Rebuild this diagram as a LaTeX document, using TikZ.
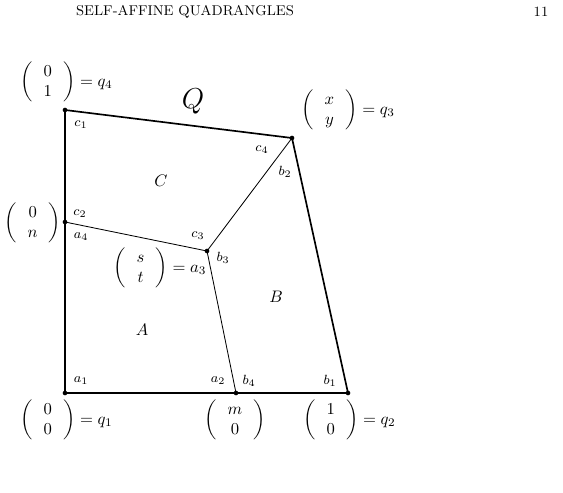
\documentclass[tikz,border=0pt]{standalone}
\begin{document}
\begin{tikzpicture}[x=0.6pt,y=-0.6pt,
  thickedge/.style={line width=1pt},
  thinedge/.style={line width=0.5pt},
  vdot/.style={circle,fill,inner sep=0pt,minimum size=2.8pt},
  lab/.style={inner sep=0pt,font=\footnotesize},
  vecl/.style={inner sep=0pt,anchor=west},
  region/.style={inner sep=0pt}]
\useasboundingbox (0,0) rectangle (563,492);
% header
\node[inner sep=0pt,font=\fontsize{8.5}{10}\selectfont] (head) at (185,12) {SELF-AFFINE QUADRANGLES};
\node[inner sep=0pt,font=\fontsize{8.5}{10}\selectfont] (page) at (541,12) {11};
% vertices
\coordinate (q1) at (65,393);
\coordinate (q2) at (348,393);
\coordinate (q3) at (292,138);
\coordinate (q4) at (65,110);
\coordinate (a4) at (65,222);
\coordinate (a3) at (207,251);
\coordinate (b4) at (236,393);
% edges
\draw[thickedge] (q1) -- (q2) -- (q3) -- (q4) -- cycle;
\draw[thinedge] (a4) -- (a3) -- (q3);
\draw[thinedge] (a3) -- (b4);
% dots
\foreach \p in {q1,q2,q3,q4,a4,a3,b4} \node[vdot] (d\p) at (\p) {};
% corner labels
\node[lab] (lc1) at (81,125) {$c_1$};
\node[lab] (lc4) at (262,150) {$c_4$};
\node[lab] (lb2) at (285,172) {$b_2$};
\node[lab] (lc2) at (80,214) {$c_2$};
\node[lab] (la4) at (81,237) {$a_4$};
\node[lab] (lc3) at (198,236) {$c_3$};
\node[lab] (lb3) at (223,258) {$b_3$};
\node[lab] (la1) at (81,381) {$a_1$};
\node[lab] (la2) at (218,381) {$a_2$};
\node[lab] (lb4) at (249,381) {$b_4$};
\node[lab] (lb1) at (330,381) {$b_1$};
% region labels
\node[region,font=\LARGE] (Q) at (193,101) {$Q$};
\node[region] (C) at (161,181) {$C$};
\node[region] (B) at (276,297) {$B$};
\node[region] (A) at (142,330) {$A$};
% vector labels
\node[vecl] (vq4) at (20,82) {$\left(\,\begin{array}{c}0\\1\end{array}\,\right)=q_4$};
\node[vecl] (vq3) at (301,110) {$\left(\,\begin{array}{c}x\\y\end{array}\,\right)=q_3$};
\node[vecl] (vn) at (4,223) {$\left(\,\begin{array}{c}0\\n\end{array}\,\right)$};
\node[vecl] (va3) at (113,268) {$\left(\,\begin{array}{c}s\\t\end{array}\,\right)=a_3$};
\node[vecl] (vq1) at (20,420) {$\left(\,\begin{array}{c}0\\0\end{array}\,\right)=q_1$};
\node[region] (vm) at (235,420) {$\left(\,\begin{array}{c}m\\0\end{array}\,\right)$};
\node[vecl] (vq2) at (303,420) {$\left(\,\begin{array}{c}1\\0\end{array}\,\right)=q_2$};
\end{tikzpicture}
\end{document}
